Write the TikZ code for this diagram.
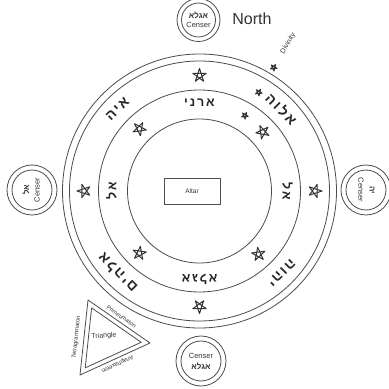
\documentclass[tikz,border=0pt]{standalone}
\usepackage{fontspec}
\setmainfont{Liberation Sans}
\newfontfamily\heb[Script=Hebrew,LetterSpace=15]{Liberation Sans}
\newfontfamily\hebs[Script=Hebrew]{Liberation Sans}
\TeXXeTstate=1
\usetikzlibrary{calc}
\begin{document}
\begin{tikzpicture}[x=1pt,y=1pt]
\tikzset{
  ring/.style={draw=black!70, line width=0.8pt},
  pentag/.pic={\draw[black!80, line width=1pt, line join=round] (90:1)--(234:1)--(18:1)--(162:1)--(306:1)--cycle;},
  hebA/.style={font=\heb\bfseries\fontsize{14}{14}\selectfont, text=black!85, inner sep=0pt},
  hebB/.style={font=\heb\bfseries\fontsize{12.5}{12.5}\selectfont, text=black!85, inner sep=0pt},
  censer/.style={circle, draw=black!70, line width=0.8pt, inner sep=0pt},
  smalltxt/.style={font=\fontsize{7}{7}\selectfont, text=black!80, inner sep=0pt},
  censertxt/.style={font=\fontsize{7.5}{7.5}\selectfont, text=black!80, inner sep=0pt},
  heblabel/.style={font=\hebs\bfseries\fontsize{8}{8}\selectfont, text=black!80, inner sep=0pt},
}
\useasboundingbox (0,0) rectangle (389,389);
\fill[white] (0,0) rectangle (389,389);
\coordinate (C) at (199.5,198);
% rings
\foreach \r in {137,130,101,72} \draw[ring] (C) circle (\r);
% band A stars (cardinal)
\foreach \a in {0,90,180,270} \path (C) ++(\a:115.5) pic[rotate=\a-90, scale=7] {pentag};
% band B stars (diagonal)
\foreach \a in {43,134,226,313} \path (C) ++(\a:86.5) pic[rotate=\a-90, scale=7] {pentag};
% small stars on the 59 degree line
\foreach \r in {88,115,144} \path (C) ++(59:\r) pic[rotate=-31, scale=3.5] {pentag};
\path (C) ++(59:172) node[smalltxt, rotate=59] (div) {Divinity};
% band A names
\path (C) ++(45:116) node[hebA, rotate=-45] (nA1) {\beginR אלוה\endR};
\path (C) ++(135:116) node[hebA, rotate=45] (nA2) {\beginR איה\endR};
\path (C) ++(225:116) node[hebA, rotate=135] (nA3) {\beginR אלהים\endR};
\path (C) ++(315:116) node[hebA, rotate=225] (nA4) {\beginR יהוה\endR};
% band B names
\path (C) ++(90:88) node[hebB] (nB1) {\beginR ארני\endR};
\path (C) ++(180:88) node[hebB, rotate=90] (nB2) {\beginR אל\endR};
\path (C) ++(0:88) node[hebB, rotate=-90] (nB3) {\beginR אל\endR};
\path (C) ++(270:88) node[hebB, rotate=180] (nB4) {\beginR אגלא\endR};
% altar
\node[draw=black!70, line width=0.7pt, minimum width=56pt, minimum height=26pt, font=\fontsize{6.5}{6.5}\selectfont, text=black!80] (altar) at (192,198) {Altar};
% censers
\node[censer, minimum size=43pt] (cT) at (198.5,369) {};
\draw[ring] (cT.center) circle (17);
\node[heblabel] (cTh) at ([yshift=5]cT.center) {\beginR אגלא\endR};
\node[censertxt] (cTc) at ([yshift=-5]cT.center) {Censer};
\node[censer, minimum size=50pt] (cB) at (201,28) {};
\draw[ring] (cB.center) circle (20);
\node[censertxt] (cBc) at ([yshift=5]cB.center) {Censer};
\node[heblabel] (cBh) at ([yshift=-5.5]cB.center) {\beginR אגלא\endR};
\node[censer, minimum size=50pt] (cL) at (32,199) {};
\draw[ring] (cL.center) circle (20);
\node[heblabel, rotate=90] (cLh) at ([xshift=-6]cL.center) {\beginR אל\endR};
\node[censertxt, rotate=90] (cLc) at ([xshift=5]cL.center) {Censer};
\node[censer, minimum size=50pt] (cR) at (366,199) {};
\draw[ring] (cR.center) circle (20);
\node[heblabel, rotate=-90] (cRh) at ([xshift=6]cR.center) {\beginR יה\endR};
\node[censertxt, rotate=-90] (cRc) at ([xshift=-5]cR.center) {Censer};
% north
\node[font=\fontsize{16}{16}\selectfont, text=black!80] (north) at (252,370) {North};
% triangle
\coordinate (tA) at (88,89);
\coordinate (tB) at (80,14);
\coordinate (tC) at (150,46);
\coordinate (tG) at (106,49.7);
\draw[ring, line join=round] (tA) -- (tB) -- (tC) -- cycle;
\draw[ring, line join=round] ($(tG)!0.8!(tA)$) -- ($(tG)!0.8!(tB)$) -- ($(tG)!0.8!(tC)$) -- cycle;
\node[smalltxt, font=\fontsize{7}{7}\selectfont, rotate=5] (tri) at (104,53) {Triangle};
\node[smalltxt, font=\fontsize{5.8}{5.8}\selectfont, rotate=84] (tet) at (76.5,52) {Tetragrammaton};
\node[smalltxt, font=\fontsize{5.8}{5.8}\selectfont, rotate=-34.7] (pri) at (121.5,72.5) {Primeumaton};
\node[smalltxt, font=\fontsize{5.8}{5.8}\selectfont, rotate=204.6] (ana) at (117.5,25) {Anaphaxeton};
\end{tikzpicture}
\end{document}
